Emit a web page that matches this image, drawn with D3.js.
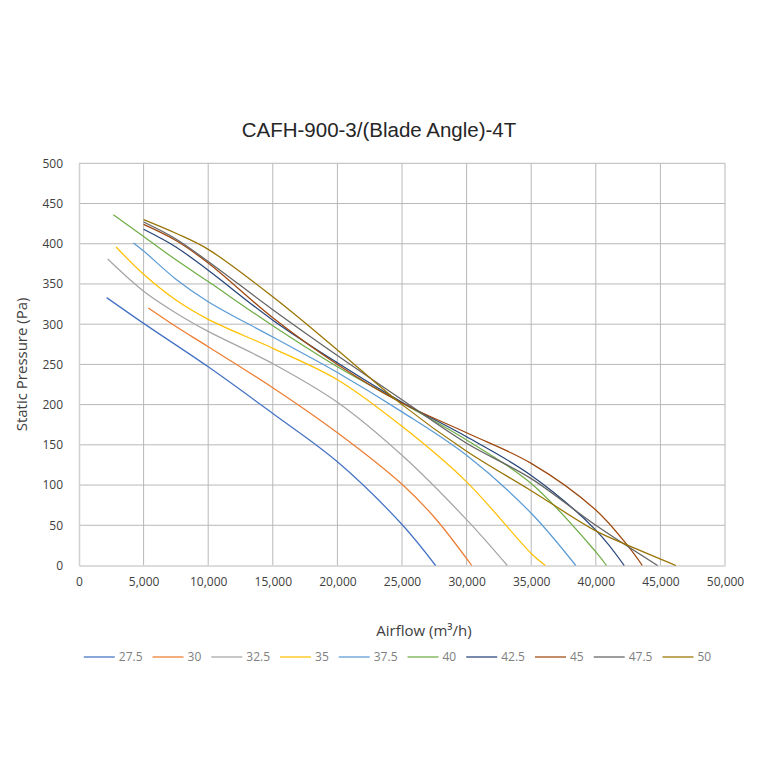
<!DOCTYPE html>
<html>
<head>
<meta charset="utf-8">
<script src="https://cdn.jsdelivr.net/npm/d3@7"></script>
<style>
  body { margin: 0; background: #fff; }
  svg { display: block; }
</style>
</head>
<body>
<svg id="chart" width="760" height="760"></svg>
<script>
// blade angles (legend labels) and one [airflow, pressure] list per angle
const angles = ['27.5', '30', '32.5', '35', '37.5', '40', '42.5', '45', '47.5', '50']
const colors = ['#4472C4', '#ED7D31', '#A5A5A5', '#FFC000', '#5B9BD5',
  '#70AD47', '#264478', '#9E480E', '#636363', '#997300']

const s275 = [[2140, 333], [5000, 301], [10000, 247], [15000, 189], [20000, 129], [25000, 51], [27600, 0]]
const s30 = [[5370, 320], [7500, 297], [10000, 272], [15000, 221], [20000, 165], [25000, 101], [27500, 60], [30400, 0]]
const s325 = [[2220, 381], [5000, 341], [7500, 314], [10000, 291], [15000, 251], [20000, 203], [25000, 137], [30000, 57], [33150, 0]]
const s35 = [[2870, 396], [5000, 362], [7500, 330], [10000, 306], [15000, 270], [20000, 231], [25000, 173], [30000, 104], [35000, 15], [36100, 0]]
const s375 = [[4210, 401], [5000, 391], [7500, 356], [10000, 328], [15000, 284], [20000, 240], [25000, 191], [30000, 137], [35000, 65], [38450, 0]]
const s40 = [[2660, 436], [5000, 409], [7500, 380], [10000, 353], [15000, 298], [20000, 247], [25000, 202], [30000, 156], [35000, 102], [40000, 17], [40830, 0]]
const s425 = [[5000, 418], [7500, 396], [10000, 367], [15000, 305], [20000, 252], [25000, 203], [30000, 160], [35000, 112], [40000, 44], [42200, 0]]
const s45 = [[5000, 424], [7500, 404], [10000, 376], [15000, 308], [20000, 250], [25000, 202], [30000, 165], [35000, 127], [40000, 69], [42500, 24], [43600, 0]]
const s475 = [[5000, 427], [7500, 406], [10000, 378], [15000, 318], [20000, 261], [25000, 206], [30000, 152], [35000, 108], [40000, 50], [44780, 0]]
const s50 = [[5000, 430], [7500, 413], [10000, 393], [15000, 334], [20000, 268], [25000, 200], [30000, 142], [35000, 93], [40000, 43], [42500, 25], [46200, 0]]

const seriesValues = [s275, s30, s325, s35, s375, s40, s425, s45, s475, s50]

const xTicks = [0, 5000, 10000, 15000, 20000, 25000, 30000, 35000, 40000, 45000, 50000]
const yTicks = [0, 50, 100, 150, 200, 250, 300, 350, 400, 450, 500]

const svg = d3.select('#chart')

const x = d3.scaleLinear().domain([0, 50000]).range([79, 725])
const y = d3.scaleLinear().domain([0, 500]).range([565.5, 163.3])

const tickFont = '"Open Sans", "Noto Sans", sans-serif'

// gridlines
svg.append('g')
  .attr('stroke', '#b8b8b8')
  .attr('stroke-width', 1)
  .selectAll('line.v')
  .data(xTicks.slice(1))
  .join('line')
  .attr('x1', (d) => x(d)).attr('x2', (d) => x(d))
  .attr('y1', y(0)).attr('y2', y(500))

svg.append('g')
  .attr('stroke', '#b8b8b8')
  .attr('stroke-width', 1)
  .selectAll('line.h')
  .data(yTicks.slice(1))
  .join('line')
  .attr('x1', x(0)).attr('x2', x(50000))
  .attr('y1', (d) => y(d)).attr('y2', (d) => y(d))

// axes
const xAxis = svg.append('g')
  .attr('transform', `translate(0,${y(0)})`)
  .call(d3.axisBottom(x).tickValues(xTicks).tickFormat(d3.format(',')).tickSize(0).tickPadding(12))
const yAxis = svg.append('g')
  .attr('transform', `translate(${x(0)},0)`)
  .call(d3.axisLeft(y).tickValues(yTicks).tickSize(0).tickPadding(16))

;[xAxis, yAxis].forEach((ax) => {
  ax.select('.domain').attr('stroke', '#d0d0d0').attr('stroke-width', 1.5)
  ax.selectAll('text')
    .attr('font-family', tickFont)
    .attr('font-size', 12)
    .attr('fill', '#404040')
})

// curves (smoothed like the spreadsheet's smooth lines)
const line = d3.line()
  .x((d) => x(d[0]))
  .y((d) => y(d[1]))
  .curve(d3.curveCatmullRom.alpha(0.5))

svg.append('g')
  .attr('fill', 'none')
  .selectAll('path')
  .data(seriesValues)
  .join('path')
  .attr('d', line)
  .attr('stroke', (d, i) => colors[i])
  .attr('stroke-width', 1.25)

// title
svg.append('text')
  .attr('x', 379)
  .attr('y', 137)
  .attr('text-anchor', 'middle')
  .attr('font-family', '"Liberation Sans", Arial, sans-serif')
  .attr('font-size', 20.5)
  .attr('fill', '#262626')
  .text('CAFH-900-3/(Blade Angle)-4T')

// axis titles
svg.append('text')
  .attr('x', 424)
  .attr('y', 636)
  .attr('text-anchor', 'middle')
  .attr('font-family', tickFont)
  .attr('font-size', 15)
  .attr('fill', '#404040')
  .text('Airflow (m³/h)')

svg.append('text')
  .attr('transform', `translate(27,${(y(0) + y(500)) / 2}) rotate(-90)`)
  .attr('text-anchor', 'middle')
  .attr('font-family', tickFont)
  .attr('font-size', 15)
  .attr('fill', '#404040')
  .text('Static Pressure (Pa)')

// legend
const legend = svg.append('g').attr('transform', 'translate(0,657)')
const items = legend.selectAll('g')
  .data(angles)
  .join('g')

items.append('line')
  .attr('x1', 0).attr('x2', 31)
  .attr('stroke', (d, i) => colors[i])
  .attr('stroke-width', 1.25)

items.append('text')
  .attr('x', 35)
  .attr('dy', '0.35em')
  .attr('font-family', tickFont)
  .attr('font-size', 12)
  .attr('fill', '#808080')
  .text((d) => d)

let pos = 0
items.each(function () {
  const w = d3.select(this).select('text').node().getComputedTextLength()
  d3.select(this).attr('transform', `translate(${pos},0)`)
  pos += 35 + w + 10
})
const total = pos - 10
legend.attr('transform', `translate(${397.5 - total / 2},657)`)
</script>
</body>
</html>
